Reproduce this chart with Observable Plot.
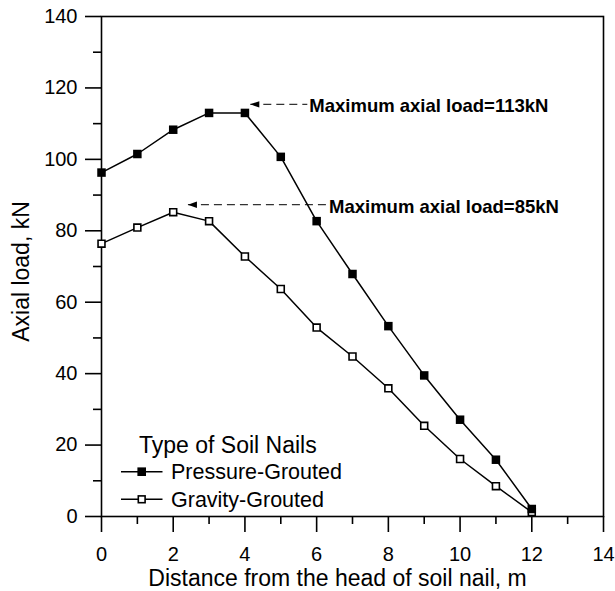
<!DOCTYPE html>
<html>
<head>
<meta charset="utf-8">
<script src="https://cdn.jsdelivr.net/npm/d3@7"></script>
<script src="https://cdn.jsdelivr.net/npm/@observablehq/plot@0.6"></script>
<style>
  html, body { margin: 0; padding: 0; background: white; }
  #chart { width: 615px; height: 591px; }
  svg text { font-family: "Liberation Sans", Arial, sans-serif; }
</style>
</head>
<body>
<div id="chart"></div>
<script>
// ---- data ----
const distance = [0, 1, 2, 3, 4, 5, 6, 7, 8, 9, 10, 11, 12];
const pressureGrouted = [96.3, 101.5, 108.3, 113, 113, 100.7, 82.7, 67.9, 53.3, 39.5, 27.1, 15.9, 2.1];
const gravityGrouted = [76.4, 80.9, 85.2, 82.7, 72.8, 63.7, 52.9, 44.8, 35.9, 25.4, 16.1, 8.5, 1.2];
const seriesNames = ["Pressure-Grouted", "Gravity-Grouted"];
const legendTitle = "Type of Soil Nails";
const xTicks = [0, 2, 4, 6, 8, 10, 12, 14];
const xMinorTicks = [1, 3, 5, 7, 9, 11, 13];
const yTicks = [0, 20, 40, 60, 80, 100, 120, 140];
const yMinorTicks = [10, 30, 50, 70, 90, 110, 130];
const xTitle = "Distance from the head of soil nail, m";
const yTitle = "Axial load, kN";
const annX1 = [4.15, 2.41];
const annX2 = [5.74, 6.29];
const annY = [115.4, 87.3];
const annLabels = ["Maximum axial load=113kN", "Maximum axial load=85kN"];

// ---- tables ----
const pressure = distance.map((d, i) => ({x: d, y: pressureGrouted[i]}));
const gravity = distance.map((d, i) => ({x: d, y: gravityGrouted[i]}));
const annotations = annLabels.map((label, i) => ({x1: annX1[i], x2: annX2[i], y: annY[i], label}));

const arrowHead = {
  draw(context) {
    context.moveTo(0, 0);
    context.lineTo(9, -3.2);
    context.lineTo(9, 3.2);
    context.closePath();
  }
};

const SW = 1.6;
const chart = Plot.plot({
  width: 615,
  height: 591,
  marginLeft: 101,
  marginRight: 12,
  marginTop: 16,
  marginBottom: 75,
  style: {fontFamily: "Liberation Sans, Arial, sans-serif", fontSize: "20px", background: "white", color: "black"},
  x: {domain: [0, 14]},
  y: {domain: [0, 140]},
  marks: [
    Plot.axisX({ticks: xTicks, tickSize: 16, tickPadding: 14, fontSize: 20, label: null, strokeWidth: SW}),
    Plot.axisX({ticks: xMinorTicks, tickSize: 8, tickFormat: () => "", label: null, strokeWidth: SW}),
    Plot.axisY({ticks: yTicks, tickSize: 16, tickPadding: 8, fontSize: 20, label: null, strokeWidth: SW}),
    Plot.axisY({ticks: yMinorTicks, tickSize: 8, tickFormat: () => "", label: null, strokeWidth: SW}),
    Plot.frame({stroke: "black", strokeWidth: SW}),
    Plot.text([xTitle], {frameAnchor: "bottom", text: d => d, textAnchor: "middle", dx: -15, dy: 62, fontSize: 23, lineAnchor: "middle"}),
    Plot.text([yTitle], {frameAnchor: "left", text: d => d, textAnchor: "middle", rotate: -90, dx: -80, dy: 5, fontSize: 23, lineAnchor: "middle"}),
    Plot.link(annotations, {x1: "x1", x2: "x2", y1: "y", y2: "y", stroke: "#333", strokeWidth: 1.2, strokeDasharray: "8,5"}),
    Plot.dot(annotations, {x: "x1", y: "y", symbol: arrowHead, fill: "black", stroke: "none"}),
    Plot.text(annotations, {x: "x2", y: "y", text: "label", textAnchor: "start", dx: 2, dy: 2, fontSize: 18.5, fontWeight: "bold"}),
    Plot.line(gravity, {x: "x", y: "y", stroke: "black", strokeWidth: 1.5}),
    Plot.dot(gravity, {x: "x", y: "y", symbol: "square", r: 3.9, fill: "white", stroke: "black", strokeWidth: 1.6}),
    Plot.line(pressure, {x: "x", y: "y", stroke: "black", strokeWidth: 1.5}),
    Plot.dot(pressure, {x: "x", y: "y", symbol: "square", r: 4.8, fill: "black", stroke: "none"})
  ]
});

// ---- legend (inside plot area, lower left) ----
const svg = d3.select(chart);
const lg = svg.append("g")
  .attr("font-family", "Liberation Sans, Arial, sans-serif")
  .attr("text-anchor", "start")
  .attr("fill", "black");
lg.append("text").attr("x", 139).attr("y", 452.7).attr("font-size", 23).attr("text-anchor", "start").text(legendTitle);
const rows = [
  {name: seriesNames[0], y: 471.7, filled: true},
  {name: seriesNames[1], y: 499.3, filled: false}
];
rows.forEach(r => {
  lg.append("line").attr("x1", 121).attr("x2", 162.5).attr("y1", r.y).attr("y2", r.y)
    .attr("stroke", "black").attr("stroke-width", 1.5);
  if (r.filled) {
    lg.append("rect").attr("x", 141.7 - 4.3).attr("y", r.y - 4.3).attr("width", 8.6).attr("height", 8.6).attr("fill", "black");
  } else {
    lg.append("rect").attr("x", 141.7 - 3.4).attr("y", r.y - 3.4).attr("width", 6.8).attr("height", 6.8)
      .attr("fill", "white").attr("stroke", "black").attr("stroke-width", 1.6);
  }
  lg.append("text").attr("x", 171).attr("y", r.y + 7.5).attr("font-size", 21.5).attr("text-anchor", "start").text(r.name);
});

document.getElementById("chart").appendChild(chart);
</script>
</body>
</html>
